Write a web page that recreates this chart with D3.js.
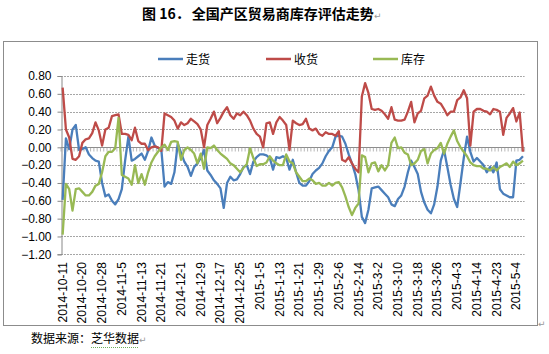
<!DOCTYPE html>
<html>
<head>
<meta charset="utf-8">
<script src="https://cdn.jsdelivr.net/npm/d3@7"></script>
<style>
  body { margin: 0; background: #fff; }
  svg { display: block; }
</style>
</head>
<body>
<svg id="chart" width="549" height="354"></svg>
<script>
// 横轴刻度标签（每 6 个数据点一个）
const tickLabels = [
  "2014-10-11", "2014-10-20", "2014-10-28", "2014-11-5", "2014-11-13", "2014-11-21",
  "2014-12-1", "2014-12-9", "2014-12-17", "2014-12-25", "2015-1-5", "2015-1-13",
  "2015-1-21", "2015-1-29", "2015-2-6", "2015-2-14", "2015-3-2", "2015-3-10",
  "2015-3-18", "2015-3-26", "2015-4-3", "2015-4-14", "2015-4-23", "2015-5-4"
];

const yTicks = [ 0.8, 0.6, 0.4, 0.2, 0, -0.2, -0.4, -0.6, -0.8, -1.0, -1.2 ];

// 走货
const zouhuo = [
  -0.59, 0.10, -0.02, 0.20, 0.25, -0.03, -0.02, 0.00, -0.08, -0.12,
  -0.15, -0.16, -0.40, -0.55, -0.53, -0.60, -0.64, -0.58, -0.47, -0.15,
  0.12, -0.15, -0.13, -0.10, -0.07, -0.14, -0.04, 0.11, 0.02, -0.01,
  -0.02, -0.44, -0.39, -0.41, -0.28, 0.04, -0.06, -0.16, -0.22, -0.32,
  -0.22, -0.18, -0.12, -0.03, -0.26, -0.31, -0.37, -0.41, -0.46, -0.68,
  -0.40, -0.33, -0.37, -0.36, -0.30, -0.22, -0.20, -0.30, -0.16, -0.11,
  -0.08, -0.08, -0.09, -0.12, -0.25, -0.11, -0.12, -0.10, -0.12, -0.25,
  -0.14, -0.28, -0.40, -0.43, -0.43, -0.38, -0.30, -0.26, -0.23, -0.18,
  -0.10, -0.04, 0.00, 0.12, 0.13, 0.12, 0.04, -0.08, -0.18, -0.30,
  -0.48, -0.78, -0.85, -0.70, -0.46, -0.45, -0.44, -0.48, -0.52, -0.56,
  -0.64, -0.66, -0.58, -0.54, -0.44, -0.28, -0.15, -0.22, -0.30, -0.50,
  -0.62, -0.70, -0.74, -0.64, -0.44, -0.15, -0.03, -0.22, -0.42, -0.58,
  -0.67, -0.40, -0.12, 0.12, -0.05, -0.16, -0.12, -0.16, -0.20, -0.28,
  -0.22, -0.28, -0.17, -0.47, -0.52, -0.54, -0.56, -0.56, -0.15, -0.14,
  -0.10
];

// 收货
const shouhuo = [
  0.67, 0.20, 0.11, -0.13, -0.14, -0.10, 0.05, 0.09, 0.10, 0.16,
  0.28, 0.19, 0.02, 0.20, 0.22, 0.35, 0.36, 0.37, 0.15, 0.15,
  0.14, 0.08, 0.22, 0.07, 0.04, 0.04, -0.03, 0.00, 0.01, 0.00,
  -0.04, 0.38, 0.36, 0.34, 0.30, 0.21, 0.28, 0.25, 0.27, 0.32,
  0.29, 0.26, 0.20, 0.00, 0.25, 0.32, 0.40, 0.27, 0.33, 0.40,
  0.45, 0.36, 0.32, 0.38, 0.36, 0.40, 0.36, 0.30, 0.21, 0.15,
  0.12, 0.00, 0.27, 0.28, 0.15, 0.28, 0.34, 0.30, 0.25, -0.03,
  0.30, 0.27, 0.25, 0.26, 0.32, 0.21, 0.19, 0.21, 0.15, 0.13,
  0.17, 0.15, 0.15, 0.13, 0.18, -0.14, -0.16, -0.11, -0.18, -0.24,
  -0.28, 0.57, 0.72, 0.61, 0.43, 0.42, 0.43, 0.41, 0.37, 0.32,
  0.45, 0.31, 0.30, 0.30, 0.31, 0.40, 0.51, 0.28, 0.38, 0.41,
  0.55, 0.58, 0.68, 0.58, 0.51, 0.49, 0.43, 0.36, 0.40, 0.40,
  0.53, 0.56, 0.64, 0.55, 0.02, 0.40, 0.43, 0.43, 0.41, 0.40,
  0.37, 0.43, 0.42, 0.40, 0.14, 0.33, 0.38, 0.44, 0.29, 0.39,
  -0.05
];

// 库存
const kucun = [
  -0.98, -0.41, -0.47, -0.71, -0.47, -0.46, -0.50, -0.54, -0.54, -0.50,
  -0.43, -0.41, -0.28, -0.10, -0.05, -0.05, -0.01, 0.33, -0.31, -0.33,
  -0.35, -0.42, -0.20, -0.40, -0.30, -0.42, -0.28, -0.17, -0.10, -0.05,
  0.00, 0.03, -0.03, 0.06, 0.07, 0.06, -0.14, -0.03, 0.00, -0.03,
  -0.07, -0.18, -0.07, -0.24, 0.00, -0.01, 0.02, -0.03, -0.07, -0.10,
  -0.13, -0.18, -0.20, -0.24, -0.28, -0.23, -0.19, -0.01, -0.12, -0.21,
  -0.19, -0.19, -0.17, -0.10, -0.15, -0.18, -0.20, -0.20, -0.08, -0.16,
  -0.18, -0.28, -0.33, -0.38, -0.38, -0.35, -0.37, -0.41, -0.40, -0.43,
  -0.43, -0.40, -0.43, -0.40, -0.39, -0.45, -0.55, -0.67, -0.76, -0.68,
  -0.63, -0.09, -0.11, -0.28, -0.18, -0.17, -0.27, -0.20, -0.26, -0.20,
  0.05, 0.11, -0.01, 0.00, -0.06, -0.08, -0.20, -0.18, -0.14, -0.04,
  -0.02, -0.18, -0.07, -0.03, -0.01, 0.05, -0.07, 0.04, 0.12, 0.19,
  0.07, 0.00, -0.05, -0.10, -0.17, -0.20, -0.21, -0.21, -0.24, -0.24,
  -0.26, -0.22, -0.26, -0.22, -0.20, -0.18, -0.22, -0.16, -0.20, -0.18,
  -0.15
];

const seriesNames = [ "走货", "收货", "库存" ];
const seriesColors = [ "#4a7ebb", "#be4b48", "#98b954" ];
const labelStep = 6;

class TrendChart {
  constructor(option) {
    this.svg = d3.select(option.el);
    this.width = option.width;
    this.height = option.height;
    this.plot = { left : 61, right : 524.6, top : 76, bottom : 254.3 };
    this.series = option.series;
    this.init();
  }

  init() {
    this.svg.html("");
    this.addFrame();
    this.addScales();
    this.addGrid();
    this.addYAxis();
    this.addXAxis();
    this.addLines();
    this.addLegend();
  }

  addFrame() {
    const title = this.svg.append("text")
      .attr("x", 142)
      .attr("y", 19)
      .attr("font-family", "'Noto Sans CJK SC', sans-serif")
      .attr("font-weight", "bold")
      .attr("font-size", "14px")
      .attr("fill", "#000");
    title.append("tspan").text("图 16．");
    title.append("tspan").attr("dx", 2).text("全国产区贸易商库存评估走势");
    this.svg.append("text")
      .attr("x", 374)
      .attr("y", 19)
      .attr("font-family", "'DejaVu Sans', sans-serif")
      .attr("font-size", "9px")
      .attr("fill", "#999")
      .text("↵");

    // 图表外框
    this.svg.append("rect")
      .attr("x", 3.5)
      .attr("y", 41.5)
      .attr("width", 534)
      .attr("height", 284)
      .attr("fill", "none")
      .attr("stroke", "#8c8c8c")
      .attr("stroke-width", 1);

    this.svg.append("text")
      .attr("x", 31)
      .attr("y", 343)
      .attr("font-family", "'Noto Sans CJK SC', sans-serif")
      .attr("font-size", "12px")
      .attr("fill", "#000")
      .text("数据来源：芝华数据");
    this.svg.append("line")
      .attr("x1", 91).attr("x2", 138)
      .attr("y1", 347.5).attr("y2", 347.5)
      .attr("stroke", "#6fae5a")
      .attr("stroke-dasharray", "1,1");
    this.svg.append("text")
      .attr("x", 139)
      .attr("y", 343)
      .attr("font-family", "'DejaVu Sans', sans-serif")
      .attr("font-size", "9px")
      .attr("fill", "#999")
      .text("↵");
    this.svg.append("text")
      .attr("x", 538)
      .attr("y", 327)
      .attr("font-family", "'DejaVu Sans', sans-serif")
      .attr("font-size", "9px")
      .attr("fill", "#999")
      .text("↵");
  }

  addScales() {
    const n = this.series[ 0 ].values.length;
    this.xScale = d3.scaleBand()
      .domain(d3.range(n))
      .range([ this.plot.left, this.plot.right ])
      .padding(0);
    this.xCenter = i => this.xScale(i) + this.xScale.bandwidth() / 2;
    this.yScale = d3.scaleLinear()
      .domain([ -1.2, 0.8 ])
      .range([ this.plot.bottom, this.plot.top ]);
  }

  addGrid() {
    this.svg.append("g")
      .selectAll("line")
      .data(yTicks.filter(d => d !== 0))
      .enter()
      .append("line")
      .attr("x1", this.plot.left)
      .attr("x2", this.plot.right)
      .attr("y1", d => Math.round(this.yScale(d)) + 0.5)
      .attr("y2", d => Math.round(this.yScale(d)) + 0.5)
      .attr("stroke", "#a6a6a6")
      .attr("stroke-dasharray", "2,1");
  }

  addYAxis() {
    const yAxis = d3.axisLeft(this.yScale)
      .tickValues(yTicks)
      .tickSize(4)
      .tickPadding(6)
      .tickFormat(d3.format(".2f"));
    const g = this.svg.append("g")
      .attr("transform", `translate(${this.plot.left + 0.5},0)`)
      .call(yAxis);
    g.select(".domain").attr("stroke", "#888");
    g.selectAll(".tick line").attr("stroke", "#888");
    g.selectAll(".tick text")
      .attr("font-family", "'Liberation Sans', Arial, sans-serif")
      .attr("font-size", "12px")
      .attr("fill", "#000");
  }

  addXAxis() {
    const y0 = Math.round(this.yScale(0)) + 0.5;
    const n = this.series[ 0 ].values.length;
    // 零线及分类刻度
    const g = this.svg.append("g");
    g.append("line")
      .attr("x1", this.plot.left)
      .attr("x2", this.plot.right)
      .attr("y1", y0)
      .attr("y2", y0)
      .attr("stroke", "#8c8c8c");
    g.selectAll(".cat-tick")
      .data(d3.range(n + 1))
      .enter()
      .append("line")
      .attr("class", "cat-tick")
      .attr("x1", i => (i < n ? this.xScale(i) : this.plot.right))
      .attr("x2", i => (i < n ? this.xScale(i) : this.plot.right))
      .attr("y1", y0)
      .attr("y2", y0 + 4)
      .attr("stroke", "#9a9a9a")
      .attr("stroke-width", 0.7);

    // 底部旋转标签
    this.svg.append("g")
      .selectAll("text")
      .data(tickLabels)
      .enter()
      .append("text")
      .attr("transform", (d, i) => `translate(${this.xCenter(i * labelStep) + 4},262) rotate(-90)`)
      .attr("text-anchor", "end")
      .attr("font-family", "'Liberation Sans', Arial, sans-serif")
      .attr("font-size", "12px")
      .attr("fill", "#000")
      .text(d => d);
  }

  addLines() {
    const line = d3.line()
      .x((d, i) => this.xCenter(i))
      .y(d => this.yScale(d));
    this.svg.append("g")
      .selectAll("path")
      .data(this.series)
      .enter()
      .append("path")
      .attr("d", d => line(d.values))
      .attr("fill", "none")
      .attr("stroke", d => d.color)
      .attr("stroke-width", 2.3)
      .attr("stroke-linejoin", "round");
  }

  addLegend() {
    const legendX = [ 158, 266, 373 ];
    const item = this.svg.append("g")
      .selectAll("g")
      .data(this.series)
      .enter()
      .append("g")
      .attr("transform", (d, i) => `translate(${legendX[ i ]},59)`);
    item.append("line")
      .attr("x1", 0).attr("x2", 25)
      .attr("y1", 0).attr("y2", 0)
      .attr("stroke", d => d.color)
      .attr("stroke-width", 2.5);
    item.append("text")
      .attr("x", 28)
      .attr("y", 4.5)
      .attr("font-family", "'Noto Sans CJK SC', sans-serif")
      .attr("font-size", "12px")
      .attr("fill", "#000")
      .text(d => d.name);
  }
}

new TrendChart({
  el : "#chart",
  width : 549,
  height : 354,
  series : [ zouhuo, shouhuo, kucun ].map((values, i) => ({
    name : seriesNames[ i ],
    color : seriesColors[ i ],
    values : values
  }))
});
</script>
</body>
</html>
